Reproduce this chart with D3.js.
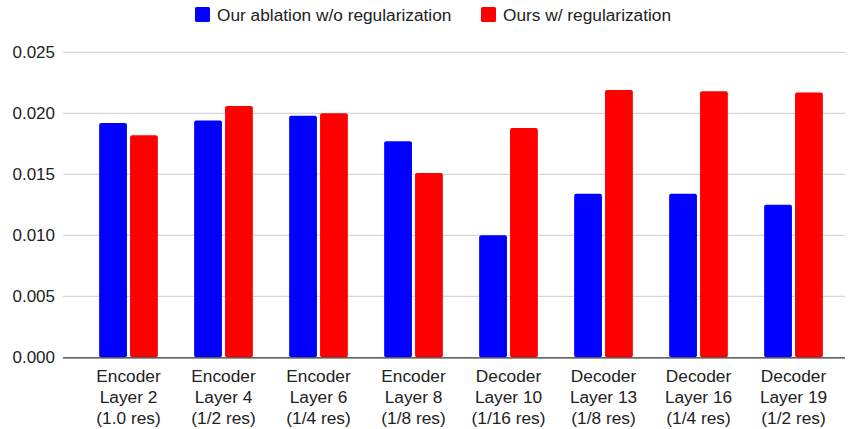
<!DOCTYPE html>
<html><head><meta charset="utf-8">
<script src="https://cdn.jsdelivr.net/npm/d3@7"></script>
<style>body{margin:0;background:#fff}svg{display:block;font-family:"Liberation Sans",Arial,sans-serif}</style>
</head><body><svg id="c" width="848" height="429"></svg>
<script>
const categories = [
  ["Encoder","Layer 2","(1.0 res)"],
  ["Encoder","Layer 4","(1/2 res)"],
  ["Encoder","Layer 6","(1/4 res)"],
  ["Encoder","Layer 8","(1/8 res)"],
  ["Decoder","Layer 10","(1/16 res)"],
  ["Decoder","Layer 13","(1/8 res)"],
  ["Decoder","Layer 16","(1/4 res)"],
  ["Decoder","Layer 19","(1/2 res)"]
];
const seriesNames = ["Our ablation w/o regularization","Ours w/ regularization"];
const ablation = [0.0192,0.0194,0.0198,0.0177,0.0100,0.0134,0.0134,0.0125];
const ours = [0.0182,0.0206,0.0200,0.0151,0.0188,0.0219,0.0218,0.0217];
const yTicks = [0,0.005,0.010,0.015,0.020,0.025];
const colors = ["#0000ff","#ff0000"];

const svg = d3.select("#c");
const gridL = 63, gridR = 845;
const y = d3.scaleLinear().domain([0,0.025]).range([357.3,52.3]);
const x0 = d3.scaleBand().domain(d3.range(categories.length)).range([81,841]).paddingInner(0.382).paddingOuter(0.191);
const x1 = d3.scaleBand().domain([0,1]).range([0,x0.bandwidth()]).paddingInner(0.1);

// gridlines
svg.append("g").selectAll("line").data(yTicks.slice(1)).join("line")
  .attr("x1",gridL).attr("x2",gridR).attr("y1",d=>y(d)).attr("y2",d=>y(d))
  .attr("stroke","#cccccc").attr("stroke-width",1);

// y axis labels
const yAxis = d3.axisLeft(y).tickValues(yTicks).tickFormat(d3.format(".3f")).tickSize(0).tickPadding(8);
const ya = svg.append("g").attr("transform",`translate(${gridL},0)`).call(yAxis);
ya.select(".domain").remove();
ya.selectAll("text").attr("font-size",17).attr("fill","#222").attr("font-family","Liberation Sans, Arial, sans-serif");

// bars
const data = categories.map((c,i)=>[ablation[i],ours[i]]);
const groups = svg.append("g").selectAll("g").data(data).join("g")
  .attr("transform",(d,i)=>`translate(${x0(i)},0)`);
groups.selectAll("rect").data(d=>d.map((v,k)=>({v,k}))).join("rect")
  .attr("x",d=>x1(d.k)).attr("width",x1.bandwidth())
  .attr("y",d=>y(d.v)).attr("height",d=>y(0)-y(d.v))
  .attr("rx",2).attr("fill",d=>colors[d.k]);

// baseline
svg.append("line").attr("x1",gridL).attr("x2",gridR).attr("y1",y(0)+0.5).attr("y2",y(0)+0.5)
  .attr("stroke","#333").attr("stroke-width",1.2);

// x labels
const xl = svg.append("g").selectAll("text").data(categories).join("text")
  .attr("text-anchor","middle").attr("font-size",17.3).attr("fill","#222")
  .attr("transform",(d,i)=>`translate(${x0(i)+x0.bandwidth()/2},0)`);
xl.selectAll("tspan").data(d=>d).join("tspan")
  .attr("x",0).attr("y",(d,j)=>382+j*21).text(d=>d);

// legend
const legX = [195,481];
const lg = svg.append("g").selectAll("g").data(seriesNames).join("g")
  .attr("transform",(d,i)=>`translate(${legX[i]},0)`);
lg.append("rect").attr("x",0).attr("y",7).attr("width",15).attr("height",15).attr("rx",1.5).attr("fill",(d,i)=>colors[i]);
lg.append("text").attr("x",22).attr("y",20.5).attr("font-size",17.3).attr("fill","#222").text(d=>d);
</script></body></html>
